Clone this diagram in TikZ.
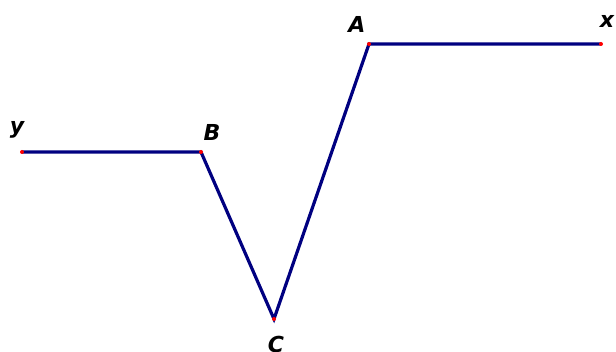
\documentclass[tikz,border=0pt]{standalone}
\usepackage{fontspec}
\setmainfont{DejaVu Sans}
\tikzset{
  seg/.style={draw={rgb,255:red,0;green,0;blue,128}, line width=3.2pt},
  pt/.style={circle, fill=red, inner sep=0pt, minimum size=4pt},
  lab/.style={font=\fontsize{22}{22}\selectfont\bfseries\itshape, inner sep=0pt}
}
\begin{document}
\begin{tikzpicture}[x=1pt,y=-1pt]
\useasboundingbox (0,0) rectangle (616,352);
\coordinate (A) at (369,44);
\coordinate (X) at (601,44);
\coordinate (Y) at (22,152);
\coordinate (B) at (201,152);
\coordinate (C) at (274,319);
\draw[seg] (Y) -- (B) -- (C) -- (A) -- (X);
\foreach \p in {A,X,Y,B,C} \node[pt] (d\p) at (\p) {};
\node[lab] (lA) at (357,24) {A};
\node[lab] (lX) at (607,21) {x};
\node[lab] (lY) at (17,130) {y};
\node[lab] (lB) at (212,132) {B};
\node[lab] (lC) at (276,344) {C};
\end{tikzpicture}
\end{document}
